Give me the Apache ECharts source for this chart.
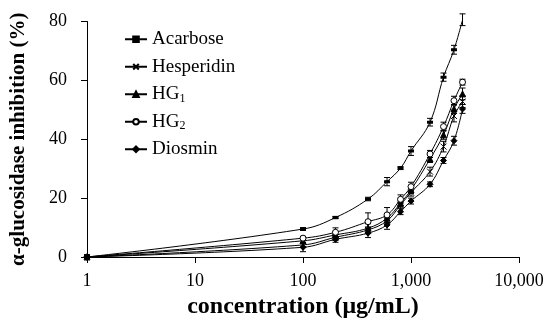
<!DOCTYPE html>
<html>
<head>
<meta charset="utf-8">
<script src="https://cdn.jsdelivr.net/npm/echarts@6/dist/echarts.min.js"></script>
<style>html,body{margin:0;padding:0;background:#fff}#c{width:550px;height:328px}</style>
</head>
<body>
<div id="c"></div>
<script>
var concentrations = [1, 100, 200, 400, 600, 800, 1000, 1500, 2000, 2500, 3000];
var seriesNames = ['Acarbose', 'Hesperidin', 'HG1', 'HG2', 'Diosmin'];
var acarbose = [0, 9.5, 13.4, 19.7, 25.6, 30.2, 36.0, 45.8, 61.1, 70.4, 80.6];
var hesperidin = [0, 4.1, 6.7, 9.2, 12.3, 17.7, 21.9, 29.0, 37.5, 47.9, 52.8];
var hg1 = [0, 5.5, 7.5, 9.8, 13.2, 18.3, 22.8, 33.3, 41.5, 50.3, 55.4];
var hg2 = [0, 6.4, 8.4, 12.0, 14.3, 19.6, 23.9, 35.0, 44.3, 53.1, 59.4];
var diosmin = [0, 3.3, 6.0, 8.1, 10.9, 15.4, 19.0, 24.7, 32.8, 39.5, 50.3];
var acarboseErr = [0, 0.5, 0.4, 0.6, 1.4, 0.5, 1.5, 1.3, 1.4, 1.5, 2.0];
var hesperidinErr = [0, 0.8, 1.0, 1.0, 1.2, 1.0, 1.2, 1.5, 1.8, 2.0, 2.0];
var hg1Err = [0, 0.8, 1.0, 1.5, 1.5, 1.0, 1.2, 1.2, 1.5, 1.5, 2.0];
var hg2Err = [0, 0.6, 1.5, 3.0, 2.5, 1.5, 1.5, 1.2, 1.5, 1.5, 1.0];
var diosminErr = [0, 1.5, 1.0, 1.5, 1.5, 1.0, 1.0, 0.8, 1.0, 1.5, 1.5];
var xTickLabels = ['1', '10', '100', '1,000', '10,000'];
var yTickLabels = ['0', '20', '40', '60', '80'];

var values = [acarbose, hesperidin, hg1, hg2, diosmin];
var errors = [acarboseErr, hesperidinErr, hg1Err, hg2Err, diosminErr];
var FONT = 'Liberation Serif';
var symbols = [
  {symbol: 'rect', size: [4, 2], fill: '#000'},
  {symbol: 'path://M0,0L10,10M10,0L0,10', size: 6, fill: 'transparent'},
  {symbol: 'triangle', size: 6, fill: '#000'},
  {symbol: 'circle', size: 6, fill: '#fff'},
  {symbol: 'diamond', size: 6, fill: '#000'}
];

function pairs(vals) {
  return concentrations.map(function (c, i) { return [c, vals[i]]; });
}

var series = [];
seriesNames.forEach(function (name, k) {
  var s = symbols[k];
  series.push({
    name: name,
    type: 'line',
    data: pairs(values[k]),
    smooth: 0.4,
    symbol: s.symbol,
    symbolSize: s.size,
    showSymbol: true,
    lineStyle: {color: '#000', width: 1},
    itemStyle: {color: s.fill, borderColor: '#000', borderWidth: 1},
    z: 3
  });
  series.push({
    type: 'custom',
    name: name + '_err',
    silent: true,
    z: 2,
    data: concentrations.map(function (c, i) { return [c, values[k][i], errors[k][i]]; }),
    renderItem: function (params, api) {
      var x = api.value(0), y = api.value(1), e = api.value(2);
      if (!e) return null;
      var top = api.coord([x, y + e]);
      var bot = api.coord([x, y - e]);
      var w = 3;
      var st = {stroke: '#000', lineWidth: 1};
      return {
        type: 'group',
        children: [
          {type: 'line', shape: {x1: top[0], y1: top[1], x2: bot[0], y2: bot[1]}, style: st},
          {type: 'line', shape: {x1: top[0] - w, y1: top[1], x2: top[0] + w, y2: top[1]}, style: st},
          {type: 'line', shape: {x1: bot[0] - w, y1: bot[1], x2: bot[0] + w, y2: bot[1]}, style: st}
        ]
      };
    }
  });
});

var chart = echarts.init(document.getElementById('c'), null, {renderer: 'canvas'});
chart.setOption({
  backgroundColor: '#fff',
  animation: false,
  textStyle: {fontFamily: FONT, color: '#000'},
  grid: {left: 78, right: 31, top: 21.5, bottom: 71},
  legend: {
    data: seriesNames,
    orient: 'vertical',
    left: 119,
    top: 24,
    itemWidth: 22,
    itemHeight: 7,
    itemGap: 7,
    textStyle: {
      fontFamily: FONT, fontSize: 19, color: '#000', lineHeight: 20.5,
      rich: {
        n: {fontFamily: FONT, fontSize: 19, color: '#000'},
        sub: {fontFamily: FONT, fontSize: 12, color: '#000', verticalAlign: 'bottom', padding: [8, 0, 0, 0]}
      }
    },
    formatter: function (name) {
      var m = /^HG(\d)$/.exec(name);
      return m ? '{n|HG}{sub|' + m[1] + '}' : '{n|' + name + '}';
    }
  },
  xAxis: {
    type: 'log',
    logBase: 10,
    min: 1,
    max: 10000,
    name: 'concentration (\u03bcg/mL)',
    nameLocation: 'middle',
    nameGap: 26,
    nameTextStyle: {fontFamily: FONT, fontSize: 24, fontWeight: 'bold', color: '#000'},
    axisLine: {lineStyle: {color: '#000', width: 1}},
    axisTick: {show: true, inside: false, length: 6, lineStyle: {color: '#000'}},
    minorTick: {show: false},
    splitLine: {show: false},
    axisLabel: {
      fontFamily: FONT, fontSize: 18, color: '#000', margin: 15,
      formatter: function (v) {
        var idx = Math.round(Math.log10(v));
        return xTickLabels[idx] !== undefined ? xTickLabels[idx] : '';
      }
    }
  },
  yAxis: {
    type: 'value',
    min: 0,
    max: 80,
    interval: 20,
    name: '\u03b1-glucosidase inhibition (%)',
    nameLocation: 'middle',
    nameGap: 58,
    nameRotate: 90,
    nameTextStyle: {fontFamily: FONT, fontSize: 21, fontWeight: 'bold', color: '#000'},
    axisLine: {show: true, lineStyle: {color: '#000', width: 1}},
    axisTick: {show: true, inside: false, length: 6, lineStyle: {color: '#000'}},
    splitLine: {show: false},
    axisLabel: {
      fontFamily: FONT, fontSize: 18, color: '#000', margin: 20,
      formatter: function (v) {
        var idx = Math.round(v / 20);
        return yTickLabels[idx] !== undefined ? yTickLabels[idx] : '';
      }
    }
  },
  series: series
});
</script>
</body>
</html>
